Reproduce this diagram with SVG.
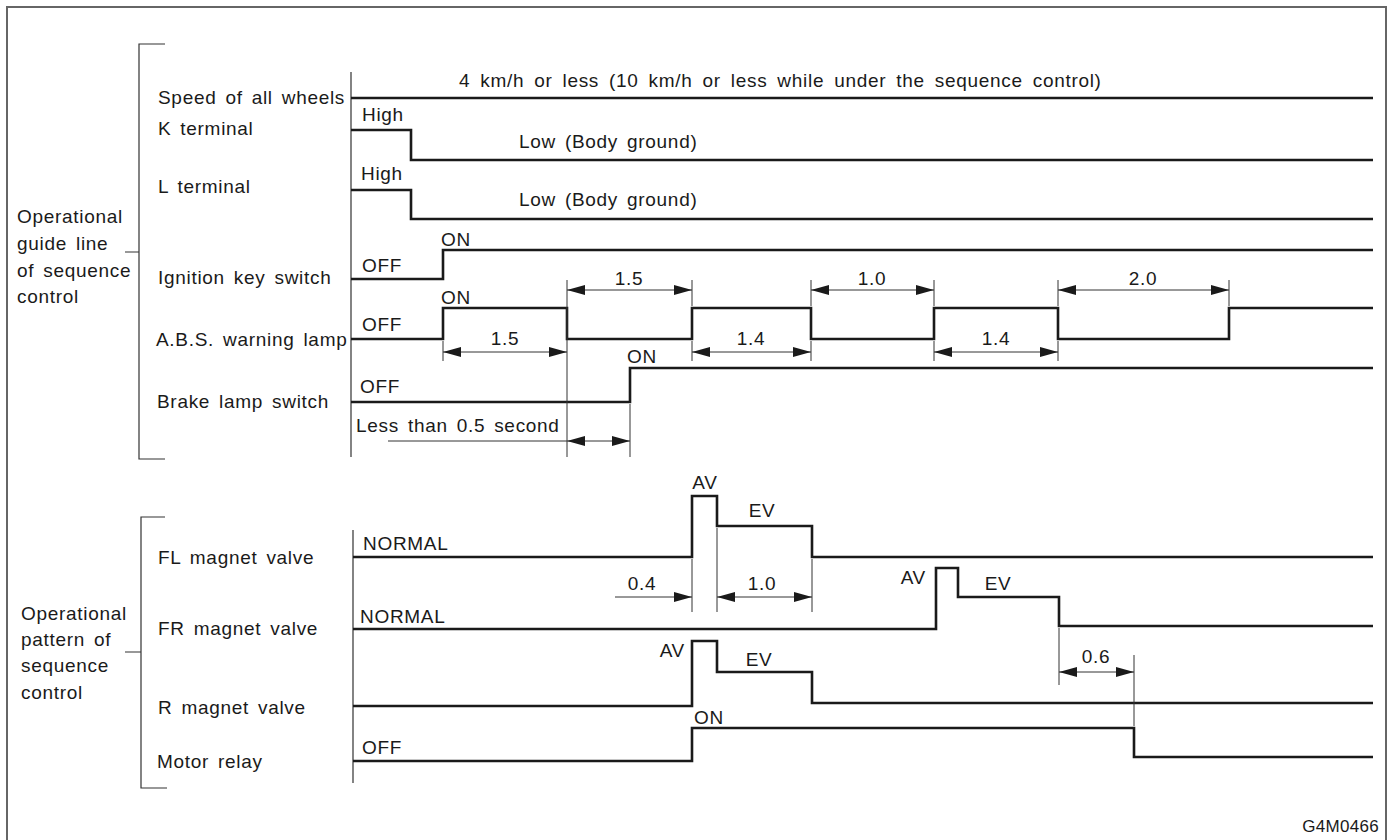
<svg xmlns="http://www.w3.org/2000/svg" width="1391" height="840" viewBox="0 0 1391 840">
<style>
text{font-family:"Liberation Sans",Arial,sans-serif;font-size:19px;fill:#1a1a1a;letter-spacing:0.7px;word-spacing:3px}
.c{text-anchor:middle}
.e{text-anchor:end}
.w{fill:none;stroke:#1a1a1a;stroke-width:2.6;stroke-linejoin:miter}
.t{fill:none;stroke:#333;stroke-width:1.2}
.d{fill:none;stroke:#333;stroke-width:1}
.da{fill:none;stroke:#333;stroke-width:1;marker-start:url(#ah);marker-end:url(#ah)}
.de{fill:none;stroke:#333;stroke-width:1;marker-end:url(#ah)}
</style>
<defs>
<marker id="ah" markerUnits="userSpaceOnUse" markerWidth="18" markerHeight="10" refX="18" refY="5" orient="auto-start-reverse">
<path d="M0,0 L18,5 L0,10 z" fill="#1a1a1a"/>
</marker>
</defs>
<rect width="1391" height="840" fill="#fff"/>
<path d="M7,840 V7 H1386 V840" fill="none" stroke="#666" stroke-width="2"/>

<g id="bracket-guide">
<path class="t" d="M165,44 H139 V459 H165 M125,252 H139"/>
<text x="17" y="223">Operational</text>
<text x="17" y="250">guide line</text>
<text x="17" y="277">of sequence</text>
<text x="17" y="303">control</text>
</g>
<g id="bracket-pattern">
<path class="t" d="M165,517 H141 V788 H167 M125,652 H141"/>
<text x="21" y="620">Operational</text>
<text x="21" y="646">pattern of</text>
<text x="21" y="672">sequence</text>
<text x="21" y="699">control</text>
</g>

<g id="axes">
<path class="t" d="M351,72 V457 M353,530 V783"/>
</g>

<g id="speed">
<text x="158" y="104">Speed of all wheels</text>
<path class="w" d="M351,98 H1373"/>
<text x="459" y="87" style="word-spacing:4px">4 km/h or less (10 km/h or less while under the sequence control)</text>
</g>
<g id="k-terminal">
<text x="158" y="135">K terminal</text>
<path class="w" d="M351,130 H411 V160 H1373"/>
<text x="362" y="121">High</text>
<text x="519" y="148">Low (Body ground)</text>
</g>
<g id="l-terminal">
<text x="158" y="193">L terminal</text>
<path class="w" d="M351,190 H411 V219 H1373"/>
<text x="361" y="180">High</text>
<text x="519" y="206">Low (Body ground)</text>
</g>
<g id="ignition">
<text x="158" y="284">Ignition key switch</text>
<path class="w" d="M351,279 H443 V250 H1373"/>
<text x="362" y="272">OFF</text>
<text x="441" y="246">ON</text>
</g>
<g id="abs-lamp">
<text x="156" y="346">A.B.S. warning lamp</text>
<path class="w" d="M351,339 H443 V308 H567 V339 H692 V308 H811 V339 H934 V308 H1058 V339 H1229 V308 H1373"/>
<text x="362" y="331">OFF</text>
<text x="441" y="304">ON</text>
</g>
<g id="brake-lamp">
<text x="157" y="408">Brake lamp switch</text>
<path class="w" d="M351,402 H630 V368 H1373"/>
<text x="360" y="393">OFF</text>
<text x="627" y="363">ON</text>
<text x="356" y="432">Less than 0.5 second</text>
</g>

<g id="fl-valve">
<text x="158" y="564">FL magnet valve</text>
<path class="w" d="M353,557 H692 V496 H717 V526 H812 V557 H1373"/>
<text x="363" y="550">NORMAL</text>
<text class="c" x="705" y="489">AV</text>
<text class="c" x="762" y="517">EV</text>
</g>
<g id="fr-valve">
<text x="158" y="635">FR magnet valve</text>
<path class="w" d="M353,629 H936 V568 H958 V597 H1059 V626 H1373"/>
<text x="360" y="623">NORMAL</text>
<text class="e" x="926" y="584">AV</text>
<text class="c" x="998" y="590">EV</text>
</g>
<g id="r-valve">
<text x="158" y="714">R magnet valve</text>
<path class="w" d="M353,706 H692 V641 H717 V672 H812 V703 H1373"/>
<text class="e" x="685" y="657">AV</text>
<text class="c" x="759" y="666">EV</text>
</g>
<g id="motor-relay">
<text x="157" y="768">Motor relay</text>
<path class="w" d="M353,761 H692 V728 H1134 V757 H1373"/>
<text x="362" y="754">OFF</text>
<text x="694" y="724">ON</text>
</g>

<g id="connectors">
<path class="d" d="M567,280 V457 M692,280 V306 M811,280 V306 M934,280 V306 M1058,280 V306 M1229,280 V306
M443,341 V361 M692,341 V361 M811,341 V361 M934,341 V361 M1058,341 V361
M630,404 V457
M692,559 V612 M717,528 V612 M812,559 V612
M1059,628 V685 M1134,655 V726"/>
<path class="da" d="M567,290 H692"/>
<path class="da" d="M811,290 H934"/>
<path class="da" d="M1058,290 H1229"/>
<path class="da" d="M443,352 H567"/>
<path class="da" d="M692,352 H811"/>
<path class="da" d="M934,352 H1058"/>
<path class="d" d="M388,441 H567"/>
<path class="da" d="M567,441 H630"/>
<path class="de" d="M615,597 H692"/>
<path class="da" d="M717,597 H812"/>
<path class="da" d="M1059,672 H1134"/>
</g>
<g id="dimension-labels">
<text class="c" x="629" y="285">1.5</text>
<text class="c" x="872" y="285">1.0</text>
<text class="c" x="1143" y="285">2.0</text>
<text class="c" x="505" y="345">1.5</text>
<text class="c" x="751" y="345">1.4</text>
<text class="c" x="996" y="345">1.4</text>
<text class="c" x="642" y="590">0.4</text>
<text class="c" x="762" y="590">1.0</text>
<text class="c" x="1096" y="663">0.6</text>
</g>
<text class="e" x="1379" y="832" style="font-size:17px;letter-spacing:0.3px">G4M0466</text>
</svg>
